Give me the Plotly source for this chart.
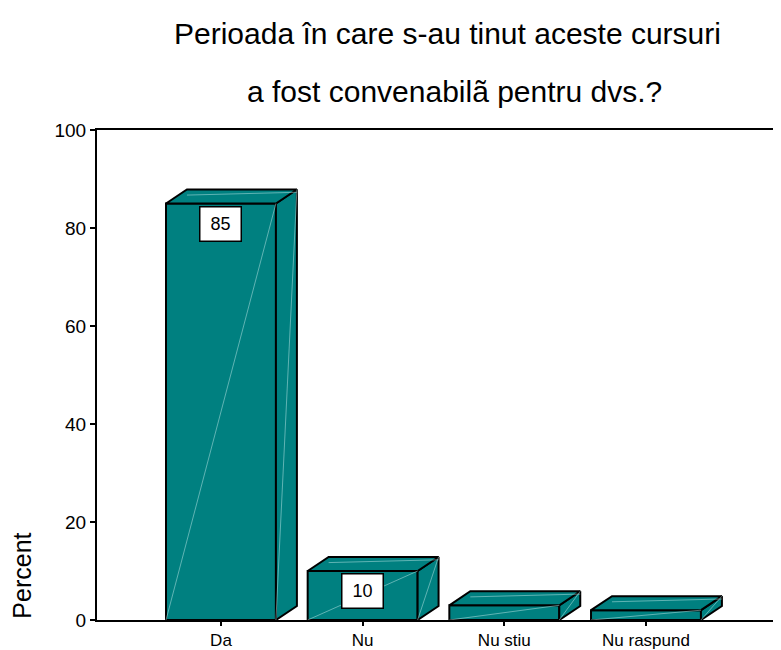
import plotly.graph_objects as go

categories = ["Da", "Nu", "Nu stiu", "Nu raspund"]
percent = [85, 10, 3, 2]
y_ticks = [0, 20, 40, 60, 80, 100]

title_1 = "Perioada în care s-au tinut aceste cursuri"
title_2 = "a fost convenabilã pentru dvs.?"

teal = "#008080"
font = "Liberation Sans, Arial, sans-serif"

# bar geometry in axis units
half_w = 0.388
dx = 0.148   # depth offset, x
dy = 2.86    # depth offset, y

fig = go.Figure()

# front faces
fig.add_trace(go.Bar(
    x=list(range(len(categories))), y=percent, width=2 * half_w,
    marker=dict(color=teal, line=dict(color="black", width=2)),
    hoverinfo="skip", showlegend=False,
))

# side and top faces
for i, v in enumerate(percent):
    xl, xr = i - half_w, i + half_w
    side_x = [xr, xr + dx, xr + dx, xr, xr]
    side_y = [0, dy, v + dy, v, 0]
    top_x = [xl, xl + dx, xr + dx, xr, xl]
    top_y = [v, v + dy, v + dy, v, v]
    for px_, py_ in [(side_x, side_y), (top_x, top_y)]:
        fig.add_trace(go.Scatter(
            x=px_, y=py_, mode="lines", fill="toself", fillcolor=teal,
            line=dict(color="black", width=2), hoverinfo="skip", showlegend=False,
        ))
    # faint diagonals on the faces
    diag_x = [xl, xr, None, xr, xr + dx, None, xl + dx, xr + dx]
    diag_y = [0, v, None, 0, v + dy, None, v + dy * 0.6, v + dy * 0.8]
    fig.add_trace(go.Scatter(
        x=diag_x, y=diag_y, mode="lines",
        line=dict(color="rgba(200,235,235,0.6)", width=0.8),
        hoverinfo="skip", showlegend=False,
    ))

# value boxes
for i, v in enumerate(percent):
    if v >= 5:
        fig.add_annotation(
            x=i, y=v, text=str(v), showarrow=False, yanchor="top", yshift=-2,
            bgcolor="white", bordercolor="black", borderwidth=1.5, borderpad=2,
            width=36, height=29, font=dict(size=18, color="black", family=font),
        )

fig.add_annotation(text=title_1, xref="paper", yref="paper", x=0.513, y=1.196,
                   xanchor="center", yanchor="middle", showarrow=False,
                   font=dict(size=30, color="black", family=font))
fig.add_annotation(text=title_2, xref="paper", yref="paper", x=0.522, y=1.078,
                   xanchor="center", yanchor="middle", showarrow=False,
                   font=dict(size=30, color="black", family=font))
fig.add_annotation(text="Percent", xref="paper", yref="paper", x=-0.11, y=0.09,
                   xanchor="center", yanchor="middle", textangle=-90, showarrow=False,
                   font=dict(size=25, color="black", family=font))

# the page body adds an 8px offset, so the figure is 8px smaller than the window
fig.update_layout(
    width=773, height=642,
    margin=dict(l=89, r=0, t=122, b=30),
    plot_bgcolor="white", paper_bgcolor="white",
    font=dict(family=font, size=19, color="black"),
    xaxis=dict(
        range=[-0.875, 3.953], tickvals=list(range(len(categories))),
        ticktext=categories, showgrid=False, zeroline=False,
        showline=True, linecolor="black", linewidth=2, mirror=True,
        ticks="outside", ticklen=4, tickcolor="black", tickwidth=1.5,
        tickfont=dict(size=17), automargin=False,
    ),
    yaxis=dict(
        range=[0, 100], tickvals=y_ticks, showgrid=False, zeroline=False,
        showline=True, linecolor="black", linewidth=2,
        ticks="outside", ticklen=5, tickcolor="black", tickwidth=1.5,
        automargin=False,
    ),
)

fig.write_html("out.html")
